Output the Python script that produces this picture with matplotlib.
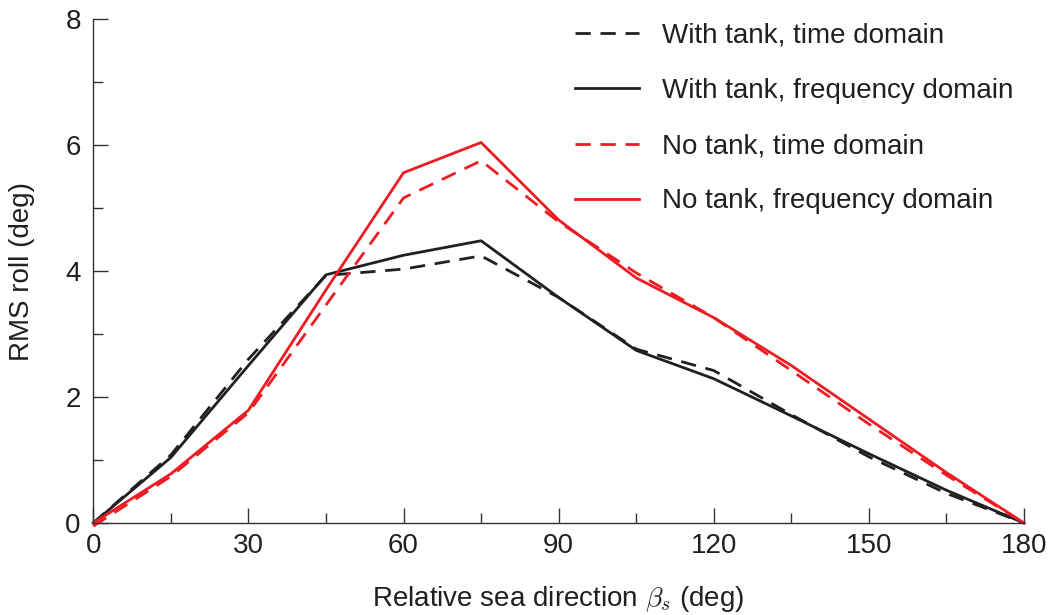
import matplotlib
matplotlib.use("Agg")
import matplotlib.pyplot as plt
from matplotlib.ticker import MultipleLocator

plt.rcParams['font.family'] = ['Liberation Sans', 'DejaVu Sans']
plt.rcParams['mathtext.fontset'] = 'cm'

# Data
beta = [0, 15, 30, 45, 60, 75, 90, 105, 120, 135, 150, 165, 180]
tank_time = [0.0, 1.08, 2.60, 3.93, 4.03, 4.24, 3.58, 2.76, 2.42, 1.72, 1.05, 0.47, 0.0]
tank_freq = [0.0, 1.04, 2.50, 3.94, 4.25, 4.48, 3.58, 2.74, 2.29, 1.70, 1.10, 0.52, 0.0]
notank_time = [-0.05, 0.74, 1.75, 3.46, 5.16, 5.75, 4.78, 3.97, 3.26, 2.42, 1.57, 0.76, 0.0]
notank_freq = [0.0, 0.78, 1.79, 3.70, 5.56, 6.04, 4.81, 3.89, 3.26, 2.50, 1.65, 0.80, 0.0]

labels = ["With tank, time domain", "With tank, frequency domain",
          "No tank, time domain", "No tank, frequency domain"]
xticks = [0, 30, 60, 90, 120, 150, 180]
yticks = [0, 2, 4, 6, 8]

BLACK = '#231f20'
RED = '#ed1c24'

fig = plt.figure(figsize=(10.52, 6.15), dpi=100)
ax = fig.add_axes([93.3/1052, 1-523/615, (1024-93.3)/1052, (523-19)/615])

lw = 2.0
dash = (5.5, 3.5)
ax.plot(beta, tank_time, color=BLACK, lw=lw, ls=(0, dash), clip_on=False, label=labels[0])
ax.plot(beta, tank_freq, color=BLACK, lw=lw, ls='-', clip_on=False, label=labels[1])
ax.plot(beta, notank_time, color=RED, lw=lw, ls=(0, dash), clip_on=False, label=labels[2])
ax.plot(beta, notank_freq, color=RED, lw=lw, ls='-', clip_on=False, label=labels[3])

ax.set_xlim(0, 180)
ax.set_ylim(0, 8)
ax.set_xticks(xticks)
ax.set_yticks(yticks)
ax.xaxis.set_minor_locator(MultipleLocator(15))
ax.yaxis.set_minor_locator(MultipleLocator(1))
ax.spines['top'].set_visible(False)
ax.spines['right'].set_visible(False)
for s in ('left', 'bottom'):
    ax.spines[s].set_linewidth(1.0)
    ax.spines[s].set_color('#333333')
ax.tick_params(which='major', direction='in', length=11, width=1.0, color='#333333',
               labelsize=20, labelcolor='#231f20')
ax.tick_params(axis='x', which='major', pad=7)
ax.tick_params(axis='y', which='major', pad=9)
ax.tick_params(which='minor', direction='in', length=7, width=1.0, color='#333333')

ax.set_xlabel(r"Relative sea direction $\beta_s$ (deg)", fontsize=20, color='#231f20', labelpad=18)
ax.set_ylabel("RMS roll (deg)", fontsize=20, color='#231f20', labelpad=22)

leg = fig.legend(loc='upper left', bbox_to_anchor=(575/1052, 1-23/615), frameon=False,
                 fontsize=20, handlelength=2.3, handletextpad=0.85, labelspacing=1.05,
                 borderpad=0, borderaxespad=0)
for t in leg.get_texts():
    t.set_color('#231f20')

fig.savefig("out.png", dpi=100)
